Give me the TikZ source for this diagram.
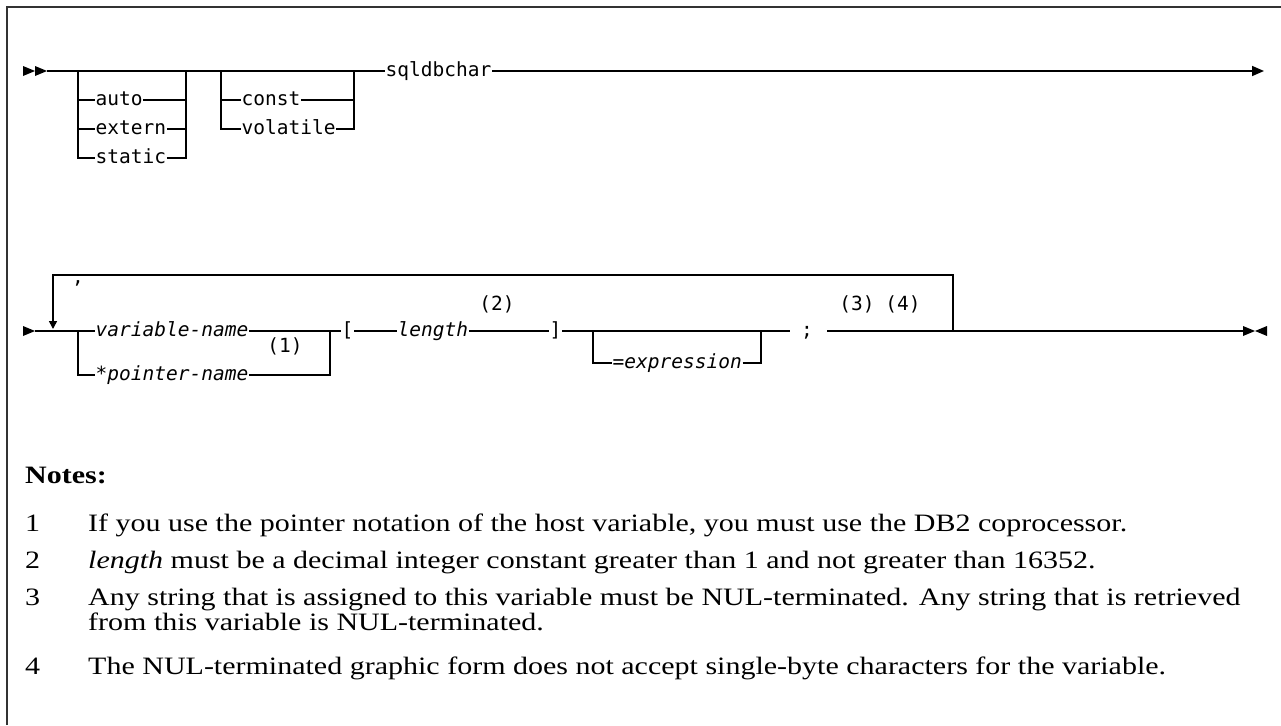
\documentclass[tikz,border=0pt]{standalone}
\usepackage{fontspec}
\setmainfont{Liberation Serif}[FakeStretch=1.2]
\setmonofont{DejaVu Sans Mono}
\usepackage{tikz}
\usetikzlibrary{arrows.meta,positioning,calc}

\begin{document}
\begin{tikzpicture}[x=1pt,y=-1pt,
  rail/.style={line width=1.6pt},
  kw/.style={font=\ttfamily\fontsize{19.5}{20}\selectfont,inner sep=0.5pt,
    text height=15pt,text depth=4.4pt},
  var/.style={kw,font=\ttfamily\itshape\fontsize{19.5}{20}\selectfont},
  note/.style={font=\fontsize{25}{25}\selectfont,anchor=base west,inner sep=0pt},
  frame/.style={line width=2pt,black!80}]
  \useasboundingbox (0,0) rectangle (1281,725);
  % 枠（上辺と左辺のみ）
  \draw[frame] (7,725) -- (7,7) -- (1281,7);

  % ---- 1段目：記憶クラス・修飾子・sqldbchar ----
  \coordinate (r1start) at (23,71);
  \coordinate (r1end) at (1264,71);
  \coordinate (b1L) at (78,71);
  \coordinate (b1R) at (186,71);
  \coordinate (b2L) at (221,71);
  \coordinate (b2R) at (354,71);
  \node[kw,anchor=west] (auto) at (95,100) {auto};
  \node[kw,anchor=west] (extern) at (95,129) {extern};
  \node[kw,anchor=west] (static) at (95,158) {static};
  \node[kw,anchor=west] (const) at (241,100) {const};
  \node[kw,anchor=west] (volatile) at (241,129) {volatile};
  \node[kw,anchor=west] (sqldbchar) at (385,71) {sqldbchar};
  % 開始記号（二重の三角）
  \foreach \dx in {0,12} {
    \fill ($(r1start)+(\dx,-5)$) -- ++(12,5) -- ++(-12,5) -- cycle;
  }
  % 主線
  \draw[rail] ($(r1start)+(24,0)$) -- (sqldbchar.west);
  \draw[rail,-{Triangle[length=12pt,width=10pt]}] (sqldbchar.east) -- (r1end);
  % auto / extern / static の選択枝
  \draw[rail] (b1L) |- (static.west);
  \draw[rail] (static.east) -| (b1R);
  \foreach \n in {auto,extern} {
    \draw[rail] (b1L |- \n.west) -- (\n.west);
    \draw[rail] (\n.east) -- (b1R |- \n.east);
  }
  % const / volatile の選択枝
  \draw[rail] (b2L) |- (volatile.west);
  \draw[rail] (volatile.east) -| (b2R);
  \draw[rail] (b2L |- const.west) -- (const.west);
  \draw[rail] (const.east) -- (b2R |- const.east);

  % ---- 2段目：変数名の繰り返し ----
  \coordinate (r2start) at (23,331);
  \coordinate (r2end) at (1243,331);
  \coordinate (bAL) at (78,331);
  \coordinate (bAR) at (330,331);
  \coordinate (bBL) at (593,331);
  \coordinate (bBR) at (761,331);
  \coordinate (semiL) at (790,331);
  \coordinate (semiR) at (827,331);
  \coordinate (repL) at (53,331);
  \coordinate (repR) at (953,331);
  \node[var,anchor=west] (varname) at (95,331) {variable-name};
  \node[var,anchor=west] (ptrname) at (95,375) {*pointer-name};
  \node[kw,anchor=west] (lbrack) at (341,331) {[};
  \node[var,anchor=west] (length) at (397,331) {length};
  \node[kw,anchor=west] (rbrack) at (549,331) {]};
  \node[var,anchor=west] (expr) at (612,363) {=expression};
  \node[kw] (semi) at (807,331) {;};
  \node[kw,anchor=base] (comma) at (78,283) {,};
  % 注番号
  \node[kw] (fn1) at (285,347) {(1)};
  \node[kw] (fn2) at (497,305) {(2)};
  \node[kw] (fn3) at (857,305) {(3)};
  \node[kw] (fn4) at (903,305) {(4)};
  % 開始記号
  \fill ($(r2start)+(0,-5)$) -- ++(12,5) -- ++(-12,5) -- cycle;
  % 主線と選択枝
  \draw[rail] ($(r2start)+(12,0)$) -- (varname.west);
  \draw[rail] (bAL) |- (ptrname.west);
  \draw[rail] (ptrname.east) -| (bAR);
  \draw[rail] (varname.east) -- (lbrack.west);
  \draw[rail] (lbrack.east) -- (length.west);
  \draw[rail] (length.east) -- (rbrack.west);
  \draw[rail] (rbrack.east) -- (semiL);
  \draw[rail] (bBL) |- (expr.west);
  \draw[rail] (expr.east) -| (bBR);
  \draw[rail] (semiR) -- (r2end);
  % 繰り返しの戻り線（カンマ区切り）
  \draw[rail,-{Triangle[length=8pt,width=8pt]}] (repR) -- ++(0,-56) -| ($(repL)+(0,-2)$);
  % 終了記号
  \fill ($(r2end)+(0,-5)$) -- ++(12,5) -- ++(-12,5) -- cycle;
  \fill ($(r2end)+(24,-5)$) -- ++(-12,5) -- ++(12,5) -- cycle;

  % ---- 注 ----
  \node[note] (notes) at (25,483) {\bfseries Notes:};
  \foreach \i/\y in {1/531,2/568,3/605,4/674} {
    \node[note] (num\i) at (25,\y) {\i};
  }
  \node[note] (note1) at (88,531) {If you use the pointer notation of the host variable, you must use the DB2 coprocessor.};
  \node[note] (note2) at (88,568) {\textit{length} must be a decimal integer constant greater than 1 and not greater than 16352.};
  \node[note] (note3) at (88,605) {Any string that is assigned to this variable must be NUL-terminated. Any string that is retrieved};
  \node[note] (note3b) at (88,630) {from this variable is NUL-terminated.};
  \node[note] (note4) at (88,674) {The NUL-terminated graphic form does not accept single-byte characters for the variable.};
\end{tikzpicture}
\end{document}
